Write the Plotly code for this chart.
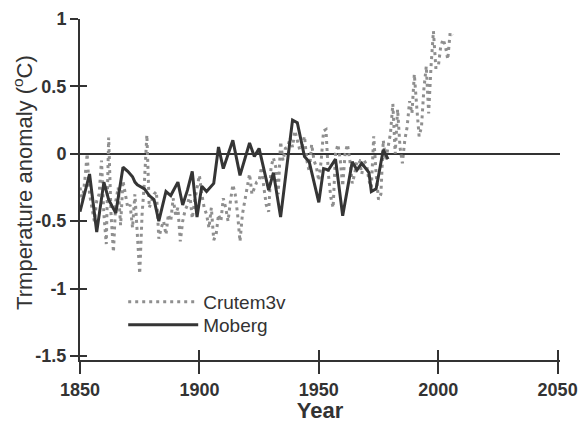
import plotly.graph_objects as go

# ---- data ----
crutem_years = list(range(1850, 2007))
crutem_values = [
    -0.25, -0.35, -0.20, 0.00, -0.30, -0.40, -0.50, -0.35, -0.30, -0.05,   # 1850-1859
    -0.45, -0.67, 0.12, -0.45, -0.73, -0.35, -0.25, -0.53, -0.20, -0.30,   # 1860-1869
    -0.40, -0.38, -0.55, -0.30, -0.60, -0.89, -0.45, -0.20, 0.14, -0.40,   # 1870-1879
    -0.35, -0.30, -0.28, -0.63, -0.55, -0.50, -0.60, -0.45, -0.50, -0.33,  # 1880-1889
    -0.45, -0.40, -0.65, -0.50, -0.42, -0.38, -0.30, -0.48, -0.35, -0.25,  # 1890-1899
    -0.16, -0.30, -0.40, -0.45, -0.55, -0.40, -0.64, -0.60, -0.45, -0.50,  # 1900-1909
    -0.33, -0.40, -0.50, -0.35, -0.23, -0.30, -0.45, -0.65, -0.45, -0.35,  # 1910-1919
    -0.26, -0.15, -0.30, -0.25, -0.21, -0.20, -0.10, -0.25, -0.38, -0.43,  # 1920-1929
    -0.10, -0.03, -0.10, -0.30, 0.09, -0.05, 0.04, 0.05, 0.12, 0.05,       # 1930-1939
    0.17, 0.10, 0.03, 0.05, 0.13, -0.05, -0.13, 0.07, -0.05, -0.10,        # 1940-1949
    -0.20, -0.05, 0.17, 0.18, -0.15, -0.32, -0.40, 0.00, 0.07, -0.05,      # 1950-1959
    -0.24, 0.00, 0.07, -0.05, -0.22, -0.15, -0.05, -0.05, -0.15, -0.05,    # 1960-1969
    -0.08, -0.20, -0.25, 0.13, -0.15, -0.34, -0.30, 0.10, -0.05, 0.05,     # 1970-1979
    0.15, 0.37, 0.00, 0.33, 0.05, -0.07, 0.10, 0.20, 0.39, 0.30,           # 1980-1989
    0.59, 0.35, 0.13, 0.20, 0.48, 0.65, 0.30, 0.65, 0.91, 0.64,            # 1990-1999
    0.64, 0.79, 0.85, 0.80, 0.70, 0.90, 0.88,                              # 2000-2006
]

moberg_years = [
    1850, 1854, 1857, 1860, 1862, 1865, 1868, 1870, 1872, 1873, 1874, 1877,
    1879, 1881, 1883, 1886, 1888, 1891, 1893, 1895, 1897, 1899, 1901, 1903,
    1906, 1908, 1910, 1914, 1917, 1921, 1923, 1925, 1929, 1931, 1934, 1939,
    1941, 1944, 1946, 1950, 1952, 1954, 1957, 1960, 1964, 1966, 1968, 1971,
    1972, 1974, 1977, 1979,
]
moberg_values = [
    -0.43, -0.15, -0.58, -0.21, -0.34, -0.44, -0.10, -0.13, -0.17, -0.21, -0.23, -0.26,
    -0.31, -0.34, -0.50, -0.28, -0.31, -0.21, -0.38, -0.27, -0.13, -0.47, -0.24, -0.28,
    -0.22, 0.05, -0.11, 0.10, -0.16, 0.08, -0.02, 0.04, -0.27, -0.14, -0.47, 0.25,
    0.23, -0.02, -0.06, -0.36, -0.11, -0.12, -0.04, -0.46, -0.06, -0.12, -0.07, -0.14,
    -0.28, -0.26, 0.03, -0.04,
]

x_tick_values = [1850, 1900, 1950, 2000, 2050]
x_tick_labels = ["1850", "1900", "1950", "2000", "2050"]
y_tick_values = [-1.5, -1, -0.5, 0, 0.5, 1]
y_tick_labels = ["-1.5", "-1", "-0.5", "0", "0.5", "1"]

X_RANGE = [1850, 2051]
Y_RANGE = [-1.53, 1.0]
INK = "#333333"
FONT = "Liberation Sans"

fig = go.Figure()
fig.add_trace(go.Scatter(
    x=crutem_years, y=crutem_values, mode="lines", name="Crutem3v", legend="legend",
    line=dict(color="#8f8f8f", width=3, dash="3px,4px"),
))
fig.add_trace(go.Scatter(
    x=moberg_years, y=moberg_values, mode="lines", name="Moberg", legend="legend2",
    line=dict(color="#353535", width=3),
))
# invisible trace so that the overlay axes (inner tick halves) are drawn
fig.add_trace(go.Scatter(
    x=moberg_years, y=moberg_values, xaxis="x2", yaxis="y2", mode="lines",
    line=dict(width=1, color="rgba(0,0,0,0)"), showlegend=False, hoverinfo="skip",
))

legend_style = dict(
    xanchor="left", yanchor="top", bgcolor="rgba(0,0,0,0)",
    font=dict(family=FONT, size=19, color=INK), itemwidth=70,
)

fig.update_layout(
    template="none",
    width=579, height=423,
    margin=dict(l=80, r=19, t=19, b=63, autoexpand=False),
    paper_bgcolor="white", plot_bgcolor="white",
    font=dict(family=FONT, color=INK),
    showlegend=True,
    legend=dict(x=0.09, y=0.226, **legend_style),
    legend2=dict(x=0.09, y=0.159, **legend_style),
    xaxis=dict(
        range=X_RANGE, tickmode="array", tickvals=x_tick_values, ticktext=x_tick_labels,
        ticks="outside", ticklen=12, tickwidth=2, tickcolor=INK,
        showline=True, linewidth=2, linecolor=INK, showgrid=False, zeroline=False,
        tickfont=dict(family=FONT, size=18, color=INK, weight="bold"),
        title=dict(text="Year", font=dict(family=FONT, size=22, color=INK, weight="bold"), standoff=16),
        anchor="y", automargin=False,
    ),
    xaxis2=dict(
        range=X_RANGE, overlaying="x", anchor="y", side="bottom",
        tickmode="array", tickvals=x_tick_values, ticks="inside", ticklen=10,
        tickwidth=2, tickcolor=INK, showticklabels=False, showline=False,
        showgrid=False, zeroline=False, automargin=False,
    ),
    yaxis=dict(
        range=Y_RANGE, tickmode="array", tickvals=y_tick_values, ticktext=y_tick_labels,
        ticks="outside", ticklen=8, tickwidth=2, tickcolor=INK,
        showline=True, linewidth=2, linecolor=INK, showgrid=False,
        zeroline=True, zerolinecolor=INK, zerolinewidth=2,
        tickfont=dict(family=FONT, size=18, color=INK, weight="bold"),
        anchor="x", automargin=False,
    ),
    yaxis2=dict(
        range=Y_RANGE, overlaying="y", anchor="x", side="left",
        tickmode="array", tickvals=y_tick_values, ticks="inside", ticklen=7,
        tickwidth=2, tickcolor=INK, showticklabels=False, showline=False,
        showgrid=False, zeroline=False, automargin=False,
    ),
    annotations=[dict(
        text="Trmperature anomaly (<sup>o</sup>C)", textangle=-90,
        xref="paper", yref="paper", x=-0.119, y=0.522,
        xanchor="center", yanchor="middle", showarrow=False,
        font=dict(family=FONT, size=22, color=INK),
    )],
)

fig.write_html(
    "out.html",
    config={"displayModeBar": False},
    post_script="document.body.style.margin='0px';document.body.style.overflow='hidden';",
)
